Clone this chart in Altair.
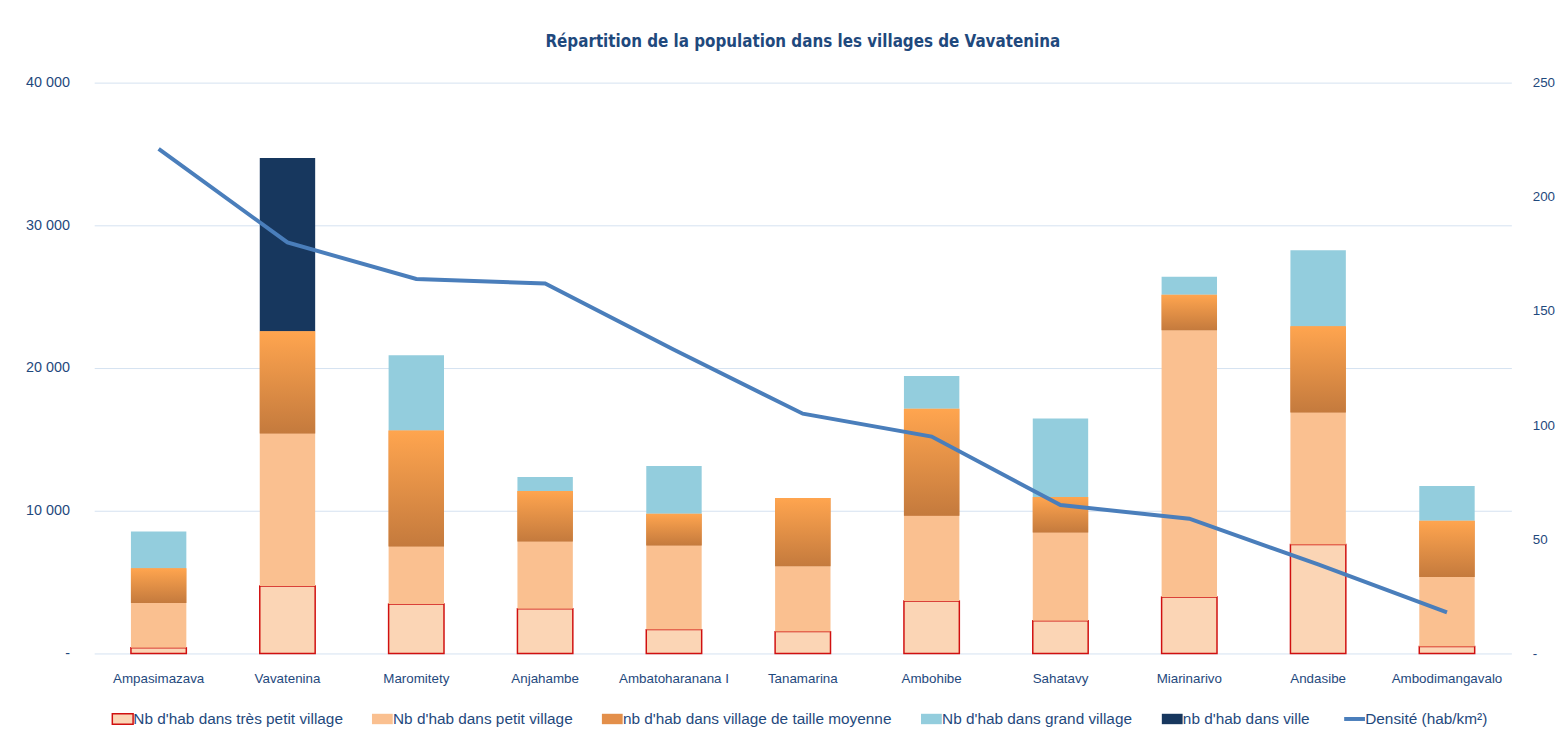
import altair as alt
import pandas as pd

villages = ["Ampasimazava", "Vavatenina", "Maromitety", "Anjahambe", "Ambatoharanana I",
            "Tanamarina", "Ambohibe", "Sahatavy", "Miarinarivo", "Andasibe", "Ambodimangavalo"]
tres_petit = [400, 4720, 3470, 3130, 1670, 1530, 3680, 2290, 3960, 7640, 490]
petit = [3140, 10700, 4030, 4720, 5900, 4580, 5970, 6180, 18680, 9240, 4860]
moyen = [2430, 7150, 8130, 3540, 2220, 4790, 7500, 2500, 2500, 6040, 3950]
grand = [2570, 0, 5270, 970, 3340, 0, 2290, 5490, 1250, 5340, 2440]
ville = [0, 12150, 0, 0, 0, 0, 0, 0, 0, 0, 0]
densite = [221, 180, 164, 162, 133, 105, 95, 65, 59, 39, 18]

series_names = ["Nb d'hab dans très petit village", "Nb d'hab dans petit village",
                "nb d'hab dans village de taille moyenne", "Nb d'hab dans grand village",
                "nb d'hab dans ville"]
line_name = "Densité (hab/km²)"
fill_colors = ["#FBD5B5", "#FAC090", "#E38F4A", "#93CDDD", "#17375E", "transparent"]
stroke_colors = ["#D01010", "transparent", "transparent", "transparent", "transparent", "#4A7EBB"]

left_ticks = [0, 10000, 20000, 30000, 40000]
right_ticks = [0, 50, 100, 150, 200, 250]

FONT = "Liberation Sans"
NARROW = "'Liberation Sans Narrow', 'DejaVu Sans Condensed', 'Liberation Sans'"
TXT = "#1F497D"

grad_moyen = {"gradient": "linear", "x1": 0, "x2": 0, "y1": 0, "y2": 1,
              "stops": [{"offset": 0, "color": "#FFA54F"}, {"offset": 1, "color": "#C47A3D"}]}

rows = []
all_series = [tres_petit, petit, moyen, grand, ville]
for i, v in enumerate(villages):
    base = 0
    for k, (name, vals) in enumerate(zip(series_names, all_series)):
        val = vals[i]
        if val > 0:
            rows.append(dict(village=v, serie=name, y0=base, y1=base + val, k=k))
        base += val
df = pd.DataFrame(rows)
dens = pd.DataFrame({"village": villages, "densite": densite, "serie": [line_name] * len(villages)})

all_names = series_names + [line_name]

x_enc = alt.X("village:N", sort=villages,
              scale=alt.Scale(paddingInner=0.57, paddingOuter=0.285),
              axis=alt.Axis(title=None, labelAngle=0, domain=False, ticks=False, grid=False,
                            labelPadding=18, labelFontSize=13.5, labelColor=TXT, labelFont=FONT))

left_axis = alt.Axis(values=left_ticks, domain=False, ticks=False, labelPadding=25,
                     labelFontSize=14.5, labelColor=TXT, labelFont=FONT,
                     gridColor="#D5E2F1", gridWidth=1,
                     labelExpr="datum.value === 0 ? '-' : replace(format(datum.value, ','), ',', ' ')")

is_line = 'datum.value === "Densité (hab/km²)"'
legend = alt.Legend(
    title=None, orient="none", legendX=21, legendY=634, direction="horizontal", columns=6,
    symbolType={"expr": is_line + " ? 'M-1,0H1' : 'M-1,-0.5H1V0.5H-1Z'"},
    symbolSize=440,
    symbolStrokeWidth={"expr": is_line + " ? 4 : 1.5"},
    symbolOpacity=1,
    labelFontSize=15.5, labelColor=TXT, labelFont=FONT, labelLimit=400, labelOffset=3,
    columnPadding=26,
)

fill_scale = alt.Scale(domain=all_names, range=fill_colors)
stroke_scale = alt.Scale(domain=all_names, range=stroke_colors)

bars = alt.Chart(df).mark_bar(strokeWidth=1.5).encode(
    x=x_enc,
    y=alt.Y("y0:Q", title=None, scale=alt.Scale(domain=[0, 40000], nice=False), axis=left_axis),
    y2="y1:Q",
    color=alt.Color("serie:N", scale=fill_scale, legend=legend),
    stroke=alt.Stroke("serie:N", scale=stroke_scale, legend=legend),
)

moy_layer = alt.Chart(df).transform_filter(alt.datum.k == 2).mark_bar(fill=grad_moyen).encode(
    x=x_enc,
    y=alt.Y("y0:Q", title=None, scale=alt.Scale(domain=[0, 40000], nice=False), axis=left_axis),
    y2="y1:Q",
)

bars_all = alt.layer(bars, moy_layer)

line = alt.Chart(dens).mark_line(strokeWidth=4).encode(
    x=x_enc,
    y=alt.Y("densite:Q", title=None, scale=alt.Scale(domain=[0, 250], nice=False),
            axis=alt.Axis(orient="right", values=right_ticks, domain=False, ticks=False,
                          grid=False, labelPadding=21, labelFontSize=13.5, labelColor=TXT,
                          labelFont=FONT,
                          labelExpr="datum.value === 0 ? '-' : datum.label")),
    stroke=alt.Stroke("serie:N", scale=stroke_scale, legend=legend),
)

chart = alt.layer(bars_all, line).resolve_scale(y="independent").properties(
    width=1430, height=576, background="white",
    title=alt.TitleParams("Répartition de la population dans les villages de Vavatenina",
                          font=NARROW, fontSize=17, fontWeight="bold", color=TXT,
                          anchor="middle", offset=24),
    padding={"left": 17, "top": 22, "right": 0, "bottom": 5},
).configure_view(stroke=None)

chart.save("out.html", embed_options={"renderer": "svg", "actions": False})
